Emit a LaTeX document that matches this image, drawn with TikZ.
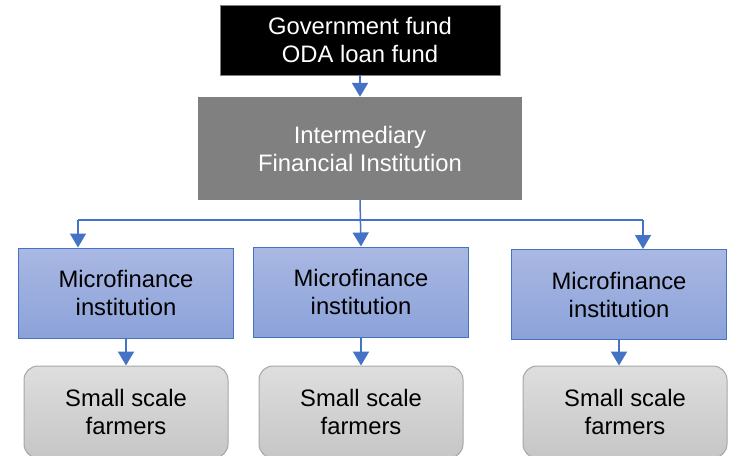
\documentclass[tikz,border=0pt]{standalone}
\usepackage{fontspec}
\setmainfont{Liberation Sans}
\usetikzlibrary{arrows.meta}

\definecolor{arrowblue}{RGB}{68,114,196}
\definecolor{mfitop}{RGB}{170,184,227}
\definecolor{mfibot}{RGB}{139,162,217}
\definecolor{farmtop}{RGB}{222,222,222}
\definecolor{farmbot}{RGB}{198,198,198}

\begin{document}
\begin{tikzpicture}[x=1pt,y=-1pt,
  txt/.style={font=\fontsize{23.8}{28}\selectfont,align=center,inner sep=0pt},
  fundbox/.style={txt,draw=gray,fill=black,text=white,minimum width=280pt,minimum height=70pt},
  ifibox/.style={txt,fill=black!50,text=white,minimum width=324pt,minimum height=103pt},
  mfibox/.style={txt,draw=arrowblue,line width=1pt,top color=mfitop,bottom color=mfibot,minimum width=215pt,minimum height=90pt},
  farmbox/.style={txt,draw=black!35,line width=1pt,rounded corners=14pt,top color=farmtop,bottom color=farmbot,minimum width=204pt,minimum height=92pt},
  flow/.style={draw=arrowblue,line width=2pt,-{Triangle[length=14pt,width=16pt]}},
  bus/.style={draw=arrowblue,line width=1.5pt}]
\useasboundingbox (0,0) rectangle (735,455);
% Boxes
\node[fundbox] (fund) at (360,40) {Government fund\\ODA loan fund};
\node[ifibox] (ifi) at (360,148.5) {Intermediary\\Financial Institution};
\node[mfibox] (mfiL) at (126,293) {Microfinance\\institution};
\node[mfibox] (mfiM) at (361,292) {Microfinance\\institution};
\node[mfibox] (mfiR) at (619,294.5) {Microfinance\\institution};
\node[farmbox] (farmL) at (126,412) {Small scale\\farmers};
\node[farmbox] (farmM) at (361,412) {Small scale\\farmers};
\node[farmbox] (farmR) at (625,412) {Small scale\\farmers};
% Bus
\coordinate (busL) at (78,220);
\coordinate (busR) at (643,220);
% Arrows
\draw[flow] (fund.south) -- (ifi.north);
\draw[bus] (busL) -- (busR);
\draw[flow,line width=1.5pt] (ifi.south) -- (mfiM.north);
\draw[flow,line width=1.5pt] (busL) -- (busL |- mfiL.north);
\draw[flow,line width=1.5pt] (busR) -- (busR |- mfiR.north);
\draw[flow] (mfiL.south) -- (farmL.north -| mfiL.south);
\draw[flow] (mfiM.south) -- (farmM.north);
\draw[flow] (mfiR.south) -- (farmR.north -| mfiR.south);
\end{tikzpicture}
\end{document}
